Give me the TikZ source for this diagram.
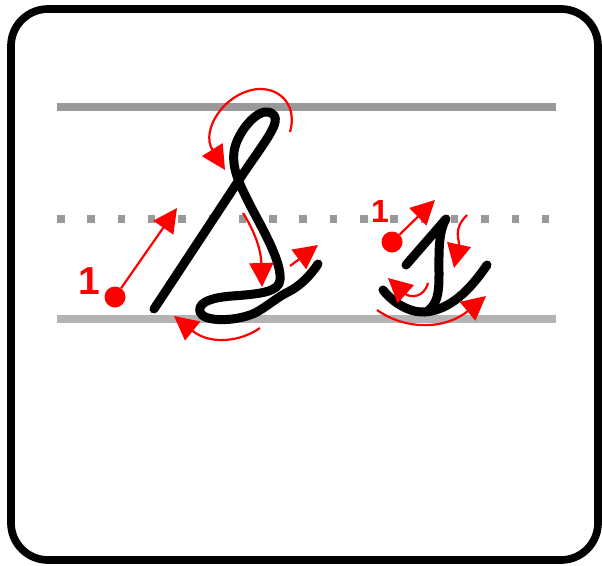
\documentclass[tikz,border=0pt]{standalone}
\usepackage{fontspec}
\setmainfont{Liberation Sans}
\usetikzlibrary{arrows.meta}
\definecolor{lineGray}{HTML}{999999}
\definecolor{baseGray}{HTML}{B3B3B3}
\begin{document}
\begin{tikzpicture}[x=1pt,y=-1pt,
    penline/.style={line width=9pt,line cap=round,line join=round},
    hintarrow/.style={red,line width=2.2pt,-{Triangle[length=24pt,width=24pt]}},
    startdot/.style={circle,fill=red,inner sep=0pt,minimum size=21pt},
    num/.style={red,inner sep=0pt,font=\bfseries\fontsize{39}{39}\selectfont}]
  \useasboundingbox (0,0) rectangle (602,565);
  \draw[line width=7.7pt,rounded corners=37pt] (11,9) rectangle (598,560);
  % ruling
  \draw[lineGray,line width=8pt] (57,107) -- (556,107);
  \draw[lineGray,line width=8pt,dash pattern=on 7.5pt off 22.8pt] (57,219) -- (552,219);
  \draw[baseGray,line width=8pt] (57,318.5) -- (556,318.5);
  % capital letter
  \draw[penline] (154,309) -- (239,180)
    .. controls (252,160) and (266,142) .. (272,130)
    .. controls (279,117) and (274,112) .. (266,112)
    .. controls (254,112) and (236,135) .. (234,152)
    .. controls (232,170) and (240,185) .. (250,205)
    .. controls (262,228) and (282,262) .. (280,280)
    .. controls (279,292) and (260,294) .. (232,296)
    .. controls (205,298) and (198,305) .. (200,312)
    .. controls (203,322) and (235,322) .. (255,313)
    .. controls (268,306) and (276,298) .. (288,292)
    .. controls (300,286) and (310,276) .. (318,264);
  % small letter
  \draw[penline] (406,265) -- (446,219)
    .. controls (438,232) and (439,255) .. (439,275)
    .. controls (439,295) and (437,303) .. (428,311);
  \draw[penline] (383,290) .. controls (395,305) and (412,313) .. (425,312)
    .. controls (450,310) and (470,290) .. (487,265);
  % hints for the capital
  \node[num] (oneS) at (89.5,281) {1};
  \node[startdot] (dotS) at (115,297) {};
  \coordinate (tipS) at (177,208);
  \draw[hintarrow] (dotS) -- (tipS);
  \draw[hintarrow] (290,132) .. controls (297,108) and (283,88) .. (258,89)
    .. controls (225,92) and (200,130) .. (225,170);
  \draw[hintarrow] (243,213) .. controls (255,232) and (261,250) .. (262,287);
  \draw[hintarrow] (290,266) -- (318,245);
  \draw[hintarrow] (260,328) .. controls (240,342) and (210,345) .. (174,316);
  % hints for the small letter
  \node[num,font=\bfseries\fontsize{32}{32}\selectfont] (ones) at (380,211.5) {1};
  \node[startdot] (dots) at (392,242) {};
  \coordinate (tips) at (435,200);
  \draw[hintarrow] (dots) -- (tips);
  \draw[hintarrow] (467,215) .. controls (452,230) and (460,240) .. (454,268);
  \draw[hintarrow] (428,283) .. controls (424,298) and (410,298) .. (388,278);
  \draw[hintarrow] (377,310) .. controls (405,330) and (445,330) .. (486,296);
\end{tikzpicture}
\end{document}
